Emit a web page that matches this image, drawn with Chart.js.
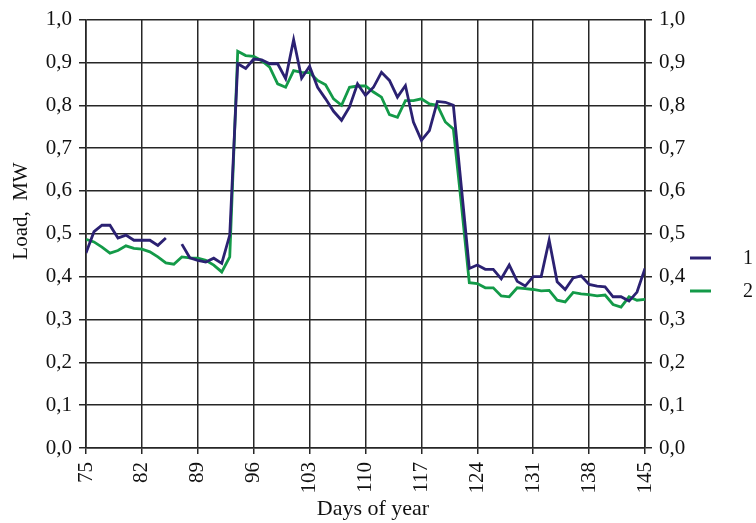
<!DOCTYPE html>
<html>
<head>
<meta charset="utf-8">
<script src="https://cdn.jsdelivr.net/npm/chart.js@4/dist/chart.umd.min.js"></script>
<style>
  html, body { margin: 0; padding: 0; background: #fff; }
  #wrap { width: 756px; height: 523px; }
</style>
</head>
<body>
<div id="wrap"><canvas id="c" width="756" height="523"></canvas></div>
<script>
// Daily load, MW, days 75..145
const days = [];
for (let d = 75; d <= 145; d++) days.push(d);

const load1 = [
  0.455, 0.505, 0.52, 0.52, 0.49, 0.497, 0.485, 0.485, 0.485, 0.473,
  0.49, null, 0.476, 0.444, 0.438, 0.434, 0.443, 0.431, 0.497, 0.897,
  0.886, 0.908, 0.906, 0.897, 0.897, 0.862, 0.953, 0.863, 0.891, 0.842,
  0.815, 0.786, 0.765, 0.796, 0.85, 0.823, 0.842, 0.877, 0.858, 0.819,
  0.846, 0.761, 0.718, 0.741, 0.809, 0.807, 0.8, 0.61, 0.419, 0.427,
  0.417, 0.417, 0.395, 0.427, 0.389, 0.378, 0.4, 0.4, 0.485, 0.388,
  0.37, 0.397, 0.402, 0.382, 0.378, 0.376, 0.353, 0.353, 0.343, 0.364,
  0.419
];

const load2 = [
  0.487, 0.481, 0.469, 0.455, 0.461, 0.472, 0.466, 0.464, 0.458, 0.446,
  0.432, 0.429, 0.446, 0.444, 0.443, 0.438, 0.427, 0.411, 0.446, 0.926,
  0.916, 0.914, 0.904, 0.889, 0.85, 0.842, 0.881, 0.877, 0.876, 0.858,
  0.848, 0.815, 0.8, 0.842, 0.845, 0.845, 0.831, 0.819, 0.778, 0.772,
  0.811, 0.811, 0.815, 0.803, 0.8, 0.761, 0.745, 0.57, 0.386, 0.384,
  0.374, 0.374, 0.355, 0.353, 0.374, 0.372, 0.37, 0.367, 0.368, 0.345,
  0.341, 0.363, 0.36, 0.358, 0.355, 0.357, 0.335, 0.329, 0.353, 0.345,
  0.347
];

const seriesNames = ['1', '2'];
const xTicks = [75, 82, 89, 96, 103, 110, 117, 124, 131, 138, 145];
const yTicks = [0, 0.1, 0.2, 0.3, 0.4, 0.5, 0.6, 0.7, 0.8, 0.9, 1.0];
const yTitle = 'Load,  MW';
const xTitle = 'Days of year';

const NAVY = '#2b2172';
const GREEN = '#139a48';
const INK = '#262626';
const SERIF = "'Liberation Serif', 'DejaVu Serif', serif";

const toPts = vals => days.map((d, i) => ({ x: d, y: vals[i] }));
const fmt = v => Number(v).toFixed(1).replace('.', ',');

// Axis titles and the series key at the right
const annotations = {
  id: 'annotations',
  afterDraw(chart) {
    const ctx = chart.ctx;
    ctx.save();
    ctx.fillStyle = '#111';
    ctx.font = '21px ' + SERIF;
    ctx.textAlign = 'center';
    ctx.textBaseline = 'middle';
    ctx.translate(21, 211);
    ctx.rotate(-Math.PI / 2);
    ctx.fillText(yTitle, 0, 0);
    ctx.restore();

    ctx.save();
    ctx.fillStyle = '#111';
    ctx.font = '22px ' + SERIF;
    ctx.textAlign = 'center';
    ctx.textBaseline = 'middle';
    ctx.fillText(xTitle, 373, 509);
    ctx.restore();

    const rows = [258, 291];
    ctx.save();
    chart.data.datasets.forEach((ds, i) => {
      const y = rows[i];
      ctx.strokeStyle = ds.borderColor;
      ctx.lineWidth = 3;
      ctx.beginPath();
      ctx.moveTo(690, y);
      ctx.lineTo(711, y);
      ctx.stroke();
      ctx.fillStyle = '#111';
      ctx.font = '20px ' + SERIF;
      ctx.textBaseline = 'middle';
      ctx.textAlign = 'left';
      ctx.fillText(ds.label, 743, y + 1);
    });
    ctx.restore();
  }
};

const tickFont = { family: SERIF, size: 21 };

new Chart(document.getElementById('c'), {
  type: 'line',
  data: {
    datasets: [
      {
        label: seriesNames[0],
        data: toPts(load1),
        borderColor: NAVY,
        borderWidth: 2.8,
        pointRadius: 0,
        tension: 0,
        spanGaps: false,
        yAxisID: 'y'
      },
      {
        label: seriesNames[1],
        data: toPts(load2),
        borderColor: GREEN,
        borderWidth: 2.8,
        pointRadius: 0,
        tension: 0,
        yAxisID: 'y'
      }
    ]
  },
  options: {
    responsive: false,
    animation: false,
    devicePixelRatio: 1,
    layout: { padding: { top: 19, left: 0, right: 0, bottom: 0 } },
    plugins: {
      legend: { display: false },
      tooltip: { enabled: false }
    },
    scales: {
      x: {
        type: 'linear',
        min: 75,
        max: 145,
        afterBuildTicks: s => { s.ticks = xTicks.map(v => ({ value: v })); },
        afterFit: s => { s.height = 75; },
        grid: { color: INK, lineWidth: 1.5, tickLength: 6, drawOnChartArea: true },
        border: { display: true, color: INK, width: 1.6 },
        ticks: {
          font: tickFont,
          color: '#111',
          minRotation: 90,
          maxRotation: 90,
          padding: 8,
          autoSkip: false
        }
      },
      y: {
        position: 'left',
        min: 0,
        max: 1,
        afterBuildTicks: s => { s.ticks = yTicks.map(v => ({ value: v })); },
        afterFit: s => { s.width = 86; },
        grid: { color: INK, lineWidth: 1.5, tickLength: 7 },
        border: { display: true, color: INK, width: 1.6 },
        ticks: { font: tickFont, color: '#111', padding: 7, callback: fmt }
      },
      y2: {
        position: 'right',
        min: 0,
        max: 1,
        afterBuildTicks: s => { s.ticks = yTicks.map(v => ({ value: v })); },
        afterFit: s => { s.width = 111; },
        grid: { drawOnChartArea: false, color: INK, lineWidth: 1.5, tickLength: 7 },
        border: { display: true, color: INK, width: 1.6 },
        ticks: { font: tickFont, color: '#111', padding: 7, callback: fmt }
      }
    }
  },
  plugins: [annotations]
});
</script>
</body>
</html>
